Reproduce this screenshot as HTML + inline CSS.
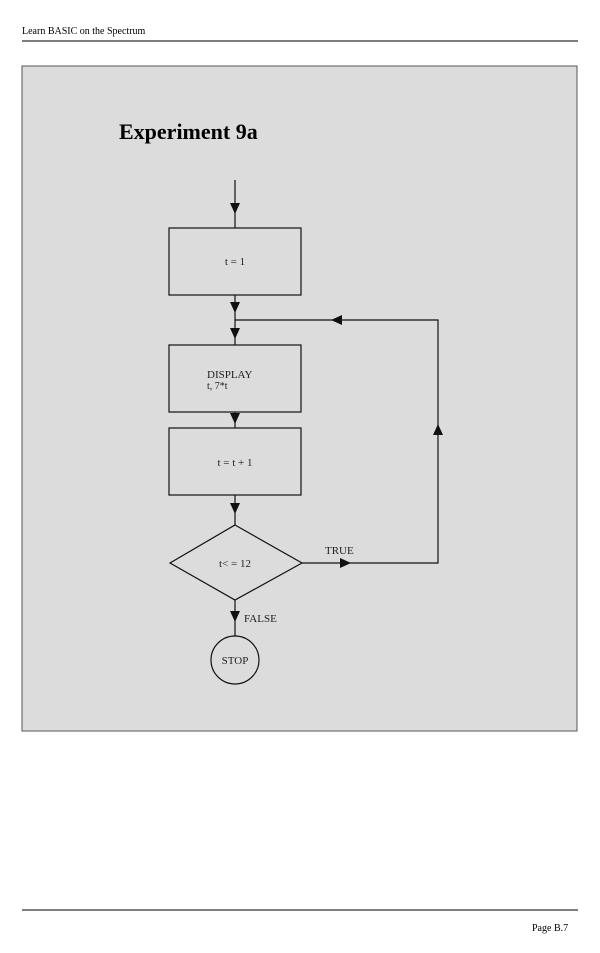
<!DOCTYPE html>
<html><head><style>
body{margin:0;width:600px;height:953px;background:#fff;position:relative;font-family:"Liberation Serif",serif;overflow:hidden}
</style></head><body>
<svg width="600" height="953" style="position:absolute;left:0;top:0">
<text x="22" y="34" font-size="10" font-family="Liberation Serif">Learn BASIC on the Spectrum</text>
<line x1="22" y1="41" x2="578" y2="41" stroke="#333" stroke-width="1.2"/>
<rect x="22" y="66" width="555" height="665" fill="#dcdcdc" stroke="#555" stroke-width="1"/>
<text x="119" y="139" font-size="22" font-weight="bold">Experiment 9a</text>
<g stroke="#111" stroke-width="1.2" fill="none">
<line x1="235" y1="180" x2="235" y2="228"/>
<rect x="169" y="228" width="132" height="67"/>
<line x1="235" y1="295" x2="235" y2="345"/>
<rect x="169" y="345" width="132" height="67"/>
<line x1="235" y1="412" x2="235" y2="428"/>
<rect x="169" y="428" width="132" height="67"/>
<line x1="235" y1="495" x2="235" y2="525"/>
<polygon points="235,525 302,563 235,600 170,563"/>
<polyline points="302,563 438,563 438,320 235,320"/>
<line x1="235" y1="600" x2="235" y2="636"/>
<circle cx="235" cy="660" r="24"/>
</g>
<g fill="#111">
<polygon points="230,203 240,203 235,214"/>
<polygon points="230,302 240,302 235,313"/>
<polygon points="230,328 240,328 235,339"/>
<polygon points="230,413 240,413 235,424"/>
<polygon points="230,503 240,503 235,514"/>
<polygon points="230,611 240,611 235,622"/>
<polygon points="340,558 340,568 351,563"/>
<polygon points="433,435 443,435 438,424"/>
<polygon points="342,315 342,325 331,320"/>
</g>
<g font-size="11" font-family="Liberation Serif" fill="#222">
<text x="235" y="265" text-anchor="middle">t = 1</text>
<text x="207" y="378">DISPLAY</text>
<text x="207" y="389" font-size="10">t, 7*t</text>
<text x="235" y="466" text-anchor="middle">t = t + 1</text>
<text x="235" y="567" text-anchor="middle">t&lt; = 12</text>
<text x="325" y="554">TRUE</text>
<text x="244" y="622">FALSE</text>
<text x="235" y="664" text-anchor="middle">STOP</text>
</g>
<line x1="22" y1="910" x2="578" y2="910" stroke="#333" stroke-width="1.2"/>
<text x="532" y="931" font-size="10">Page  B.7</text>
</svg>
</body></html>
